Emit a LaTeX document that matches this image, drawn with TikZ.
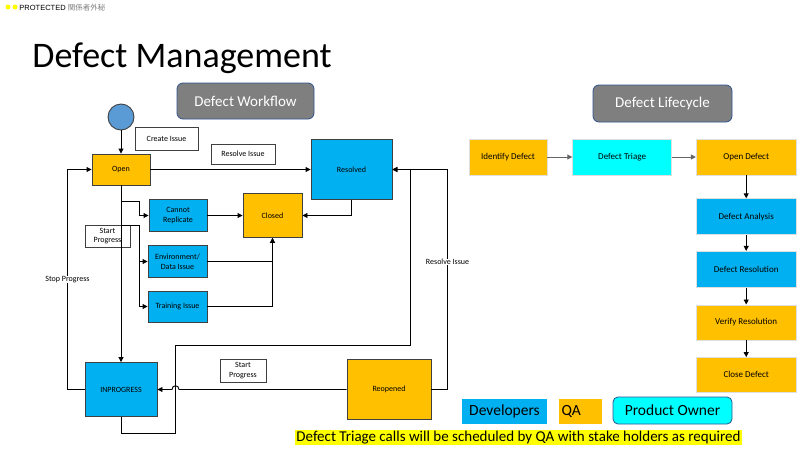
\documentclass[tikz,border=0pt]{standalone}
\usepackage{fontspec}
\setmainfont{Carlito}
\newfontfamily\protfont{Liberation Sans}
\newfontfamily\cjkfont{Noto Sans CJK JP}
\usepackage{tikz}
\usetikzlibrary{positioning,arrows.meta}

\definecolor{qaOrange}{RGB}{255,192,0}
\definecolor{devBlue}{RGB}{0,176,240}
\definecolor{ownerCyan}{RGB}{0,255,255}
\definecolor{startBlue}{RGB}{91,155,213}
\definecolor{headGrey}{RGB}{127,127,127}
\definecolor{headBorder}{RGB}{47,82,143}
\definecolor{noteYellow}{RGB}{255,255,0}

\begin{document}
\begin{tikzpicture}[
        x=1pt, y=-1pt,
        line width=0.9pt,
        >={Triangle[length=5pt,width=5pt]},
        state/.style={
            % The shape
            rectangle,
            inner sep=1pt,
            align=center,
            % The border
            line width=0.9pt,
            draw = black!75,
            % The color
            text = black,
            % Font
            font = \fontsize{8}{9.5}\selectfont
        },
        tag/.style={
            % The shape
            rectangle,
            inner sep=1pt,
            align=center,
            % The border
            line width=0.8pt,
            draw = black!75,
            fill = white,
            % The color
            text = black,
            % Font
            font = \fontsize{8}{9.5}\selectfont
        },
        phase/.style={
            % The shape
            rectangle,
            minimum width=100pt,
            minimum height=36pt,
            inner sep=1pt,
            % The border
            line width=0.6pt,
            draw = gray!25,
            % The color
            text = black,
            % Font
            font = \fontsize{9}{10}\selectfont
        },
        heading/.style={
            % The shape
            rectangle,
            rounded corners=6pt,
            % The border
            line width=0.8pt,
            draw = headBorder,
            fill = headGrey,
            % The color
            text = white,
            % Font
            font = \fontsize{15}{17}\selectfont
        },
        legend/.style={
            % The shape
            rectangle,
            minimum height=25pt,
            inner sep=3pt,
            % The color
            text = black,
            % Font
            font = \fontsize{15.5}{17}\selectfont
        },
        onwire/.style={
            fill = white,
            inner sep=0.5pt,
            font = \fontsize{8}{9.5}\selectfont
        },
    ]
        \useasboundingbox (0,0) rectangle (800,450);

        % header and title
        \node (dotA) [circle,fill=noteYellow,minimum size=5pt,inner sep=0pt] at (8,7) {};
        \node (dotB) [circle,fill=noteYellow,minimum size=5pt,inner sep=0pt] at (15,7) {};
        \node (protected) [anchor=west,inner sep=0pt,font=\protfont\fontsize{7.5}{8}\selectfont] at (19,8)
        {PROTECTED \textcolor{gray}{\cjkfont 関係者外秘}};
        \node (title) [anchor=base west,inner sep=0pt,font=\fontsize{36}{40}\selectfont] at (32,67) {Defect Management};

        \node (workflowHead) [heading,minimum width=137pt,minimum height=36pt] at (245.5,101) {Defect Workflow};
        \node (lifecycleHead) [heading,minimum width=139pt,minimum height=37pt] at (662.5,103.5) {Defect Lifecycle};

        % workflow states
        \node (start) [circle,line width=0.9pt,draw=black!75,fill=startBlue,minimum size=26pt] at (121,117) {};
        \node (createTag) [tag,minimum width=63pt,minimum height=23pt] at (166.5,138.5) {Create Issue};
        \node (resolveTag) [tag,minimum width=64pt,minimum height=20pt] at (243,154) {Resolve Issue};
        \node (startTagA) [tag,minimum width=45pt,minimum height=22pt] at (107.5,236) {Start\\Progress};
        \node (startTagB) [tag,minimum width=46pt,minimum height=23pt] at (243,370.5) {Start\\Progress};

        \node (open) [state,fill=qaOrange,minimum width=58pt,minimum height=31pt] at (121,169.5) {Open};
        \node (resolved) [state,fill=devBlue,minimum width=81pt,minimum height=60pt] at (351.5,169.5) {Resolved};
        \node (cannotRep) [state,fill=devBlue,minimum width=58pt,minimum height=32pt] at (178,215.5) {Cannot\\Replicate};
        \node (closed) [state,fill=qaOrange,minimum width=59pt,minimum height=44pt] at (272.5,215.5) {Closed};
        \node (envData) [state,fill=devBlue,minimum width=59pt,minimum height=32pt] at (177.5,261.5) {Environment/\\Data Issue};
        \node (training) [state,fill=devBlue,minimum width=59pt,minimum height=31pt] at (177.5,306.5) {Training Issue};
        \node (inProgress) [state,fill=devBlue,minimum width=72pt,minimum height=54pt] at (121,389.5) {INPROGRESS};
        \node (reopened) [state,fill=qaOrange,minimum width=84pt,minimum height=60pt] at (389,389.5) {Reopened};

        \coordinate (splitA) at (139.5,201.5);
        \coordinate (splitB) at (139.5,225.5);
        \coordinate (stopBend) at (67.5,389.5);
        \coordinate (loopA) at (175.5,433.5);
        \coordinate (loopB) at (410.5,345.5);
        \coordinate (resolveBend) at (447.5,389.5);
        \coordinate (hopRight) at (179,389.5);
        \coordinate (hopLeft) at (172,389.5);

        % workflow connectors
        \path (start) edge[->] (open);
        \path (open) edge[->] (resolved);
        \path (open) edge[->] (inProgress);
        \draw[->] (open.south |- splitA) -- (splitA) |- (cannotRep.west);
        \draw[->] (open.south |- splitB) -- (splitB) |- (envData.west);
        \draw[->] (splitB) |- (training.west);
        \path (cannotRep) edge[->] (closed);
        \draw[->] (envData.east) -| (closed.south);
        \draw[->] (training.east) -| (closed.south);
        \draw[->] (resolved.south) |- (closed.east);
        \draw[->] (inProgress.west) -- (stopBend) |- node[onwire,pos=0.25] {Stop Progress} (open.west);
        \draw[->] (inProgress.south) |- (loopA) |- (loopB) |- (resolved.east);
        \draw[->] (reopened.east) -- (resolveBend) |- node[onwire,pos=0.29] {Resolve Issue} (resolved.east);
        \draw[->,black] (reopened.west) -- (hopRight) .. controls (179,384.5) and (172,384.5) .. (hopLeft) -- (inProgress.east);

        % lifecycle
        \node (identify) [phase,fill=qaOrange,minimum width=78pt] at (508,157) {Identify Defect};
        \node (triage) [phase,fill=ownerCyan,minimum width=99pt,right=25pt of identify] {Defect Triage};
        \node (openDefect) [phase,fill=qaOrange,right=24pt of triage] {Open Defect};
        \node (analysis) [phase,fill=devBlue,below=23pt of openDefect] {Defect Analysis};
        \node (resolution) [phase,fill=devBlue,below=16pt of analysis] {Defect Resolution};
        \node (verify) [phase,fill=qaOrange,below=17pt of resolution,minimum height=35pt] {Verify Resolution};
        \node (closeDefect) [phase,fill=qaOrange,below=17pt of verify,minimum height=35pt] {Close Defect};
        \path (identify) edge[->,draw=black!60] (triage);
        \path (triage) edge[->,draw=black!60] (openDefect);
        \path (openDefect) edge[->] (analysis);
        \path (analysis) edge[->] (resolution);
        \path (resolution) edge[->] (verify);
        \path (verify) edge[->] (closeDefect);

        % legend and note
        \node (developers) [legend,fill=devBlue,minimum width=85pt] at (504.5,411.5) {Developers};
        \node (qa) [legend,fill=qaOrange,text width=37pt,align=left] at (580,411.5) {QA};
        \node (owner) [legend,fill=ownerCyan,draw=headBorder,line width=0.8pt,rounded corners=5pt,minimum width=119pt,minimum height=27pt] at (672.5,410.5) {Product Owner};
        \node (note) [fill=noteYellow,inner sep=1pt,font=\fontsize{15}{16}\selectfont] at (518.5,437.5)
        {Defect Triage calls will be scheduled by QA with stake holders as required};
    \end{tikzpicture}
\end{document}
